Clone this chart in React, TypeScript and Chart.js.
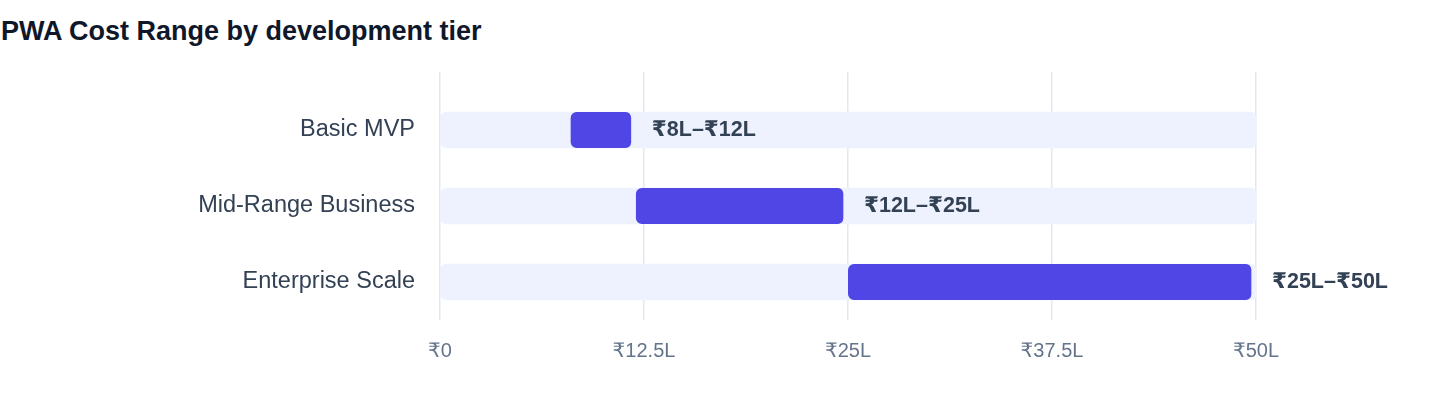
import { useEffect, useRef } from "react";
import { Chart, registerables, Plugin } from "chart.js";

Chart.register(...registerables);

//  Data

const TIERS = ["Basic MVP", "Mid-Range Business", "Enterprise Scale"];
const LOW = [8, 12, 25];
const HIGH = [12, 25, 50];
const TRACK = [50, 50, 50];
const RANGE_LABELS = ["₹8L–₹12L", "₹12L–₹25L", "₹25L–₹50L"];
const X_TICKS = [0, 12.5, 25, 37.5, 50];
const X_TICK_LABELS = ["₹0", "₹12.5L", "₹25L", "₹37.5L", "₹50L"];

//  Style

const FONT = "'Liberation Sans', Arial, 'DejaVu Sans', sans-serif";
const INDIGO = "#4F46E5";
const TRACK_BG = "#EEF2FF";
const GRID = "#E2E8F0";
const SLATE_700 = "#334155";
const SLATE_500 = "#64748B";

const rangeLabels: Plugin<"bar"> = {
  id: "rangeLabels",
  afterDatasetsDraw(chart) {
    const { ctx } = chart;
    const x = chart.scales.x;
    const y = chart.scales.y;
    ctx.save();
    ctx.font = `bold 21.5px ${FONT}`;
    ctx.fillStyle = SLATE_700;
    ctx.textAlign = "left";
    ctx.textBaseline = "middle";
    RANGE_LABELS.forEach((label, i) => {
      ctx.fillText(label, x.getPixelForValue(HIGH[i]) + 16, y.getPixelForValue(i));
    });
    ctx.restore();
  },
};

export default function App() {
  const canvasRef = useRef<HTMLCanvasElement>(null);

  useEffect(() => {
    if (!canvasRef.current) return;
    const chart = new Chart(canvasRef.current, {
      type: "bar",
      data: {
        labels: TIERS,
        datasets: [
          {
            label: "Range",
            data: LOW.map((lo, i) => [lo, HIGH[i]] as [number, number]),
            backgroundColor: INDIGO,
            borderColor: "rgba(0,0,0,0)",
            borderWidth: { top: 0, right: 5, bottom: 0, left: 0 },
            borderRadius: { topLeft: 6, bottomLeft: 6, topRight: 11, bottomRight: 11 },
            borderSkipped: false,
            barThickness: 36,
            grouped: false,
            order: 0,
          },
          {
            label: "Track",
            data: TRACK.map((v) => [0, v] as [number, number]),
            backgroundColor: TRACK_BG,
            borderRadius: 6,
            borderSkipped: false,
            barThickness: 36,
            grouped: false,
            order: 1,
          },
        ],
      },
      options: {
        indexAxis: "y",
        responsive: true,
        maintainAspectRatio: false,
        animation: false,
        layout: { padding: { top: 22, right: 184, bottom: 8, left: 0 } },
        plugins: {
          legend: { display: false },
          tooltip: { enabled: false },
        },
        scales: {
          x: {
            type: "linear",
            position: "bottom",
            min: 0,
            max: 50,
            afterBuildTicks: (scale) => {
              scale.ticks = X_TICKS.map((value) => ({ value }));
            },
            grid: { color: GRID, drawTicks: false, lineWidth: 1.5 },
            border: { display: false },
            ticks: {
              color: SLATE_500,
              font: { family: FONT, size: 20 },
              padding: 19,
              maxRotation: 0,
              callback: (v) => X_TICK_LABELS[X_TICKS.indexOf(Number(v))] ?? "",
            },
          },
          xTop: {
            type: "linear",
            position: "top",
            axis: "x",
            min: 0,
            max: 50,
            afterBuildTicks: (scale) => {
              scale.ticks = X_TICKS.map((value) => ({ value }));
            },
            grid: { color: GRID, drawOnChartArea: false, drawTicks: true, tickLength: 20, lineWidth: 1.5 },
            border: { display: false },
            ticks: { display: false },
          },
          y: {
            grid: { display: false, drawTicks: false },
            border: { display: false },
            afterFit: (scale) => {
              scale.width = 440;
            },
            ticks: {
              color: SLATE_700,
              font: { family: FONT, size: 23.5 },
              padding: 25,
            },
          },
        },
      },
      plugins: [rangeLabels],
    });
    return () => chart.destroy();
  }, []);

  return (
    <div style={{ position: "relative", width: 1440, height: 408, fontFamily: FONT }}>
      <style>{`body { margin: 0; }`}</style>
      <div
        style={{
          position: "absolute",
          left: 1,
          top: 18,
          fontSize: 27,
          lineHeight: "27px",
          fontWeight: 700,
          color: "#0F172A",
        }}
      >
        PWA Cost Range by development tier
      </div>
      <div style={{ position: "absolute", left: 0, top: 50, width: 1440, height: 340 }}>
        <canvas ref={canvasRef} />
      </div>
    </div>
  );
}
